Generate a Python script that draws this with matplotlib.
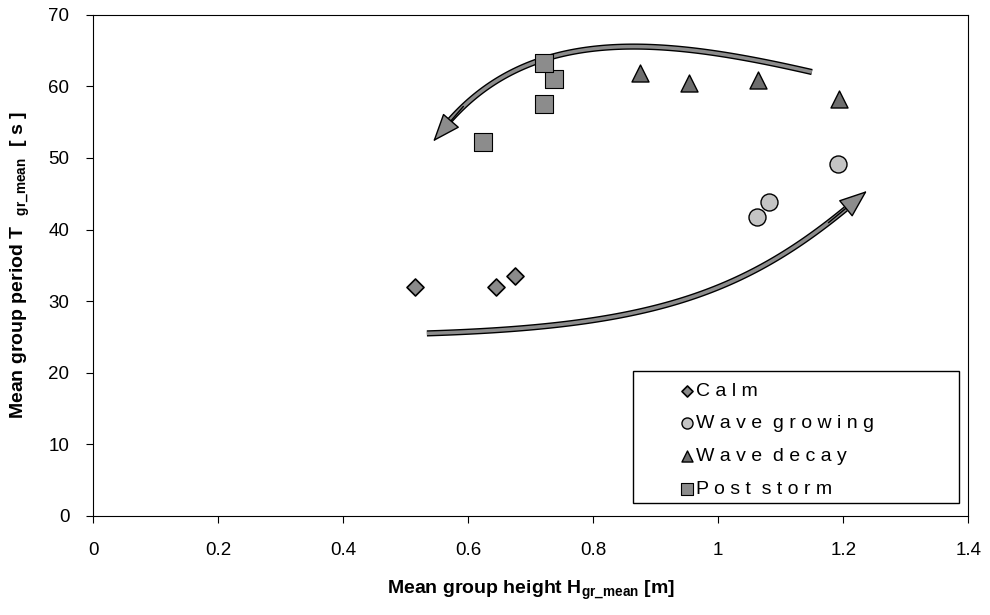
import numpy as np
import matplotlib.pyplot as plt
import matplotlib.patheffects as pe
from matplotlib.patches import FancyArrowPatch, Rectangle

plt.rcParams['font.family'] = ['Liberation Sans', 'DejaVu Sans']
plt.rcParams['mathtext.fontset'] = 'custom'
plt.rcParams['mathtext.rm'] = 'Liberation Sans'
plt.rcParams['mathtext.bf'] = 'Liberation Sans:bold'

# donnees
calm_x = [0.515, 0.645, 0.675]
calm_y = [32.0, 32.0, 33.5]
grow_x = [1.062, 1.082, 1.192]
grow_y = [41.8, 43.9, 49.2]
decay_x = [0.875, 0.954, 1.064, 1.194]
decay_y = [61.8, 60.5, 60.9, 58.2]
post_x = [0.624, 0.722, 0.738, 0.722]
post_y = [52.2, 57.5, 61.0, 63.3]
labels = ['C a l m', 'W a v e  g r o w i n g', 'W a v e  d e c a y', 'P o s t  s t o r m']

# fleches (points de controle de Bezier cubique)
arrow_up = [(1.15, 62.0), (0.90, 67.0), (0.68, 69.0), (0.544, 52.3)]
arrow_low = [(0.534, 25.5), (0.90, 26.5), (1.05, 31.0), (1.238, 45.4)]


def bezier(pts, n=100):
    p = np.array(pts)
    t = np.linspace(0, 1, n)[:, None]
    return ((1 - t) ** 3 * p[0] + 3 * (1 - t) ** 2 * t * p[1]
            + 3 * (1 - t) * t ** 2 * p[2] + t ** 3 * p[3])


fig = plt.figure(figsize=(9.9, 6.15), dpi=100)
ax = fig.add_axes([0.094, 0.161, 0.884, 0.815])

ax.scatter(calm_x, calm_y, marker='D', s=75, c='#8a8a8a', edgecolors='black', linewidths=1.2, label=labels[0], zorder=3)
ax.scatter(grow_x, grow_y, marker='o', s=150, c='#c4c4c4', edgecolors='black', linewidths=1.0, label=labels[1], zorder=3)
ax.scatter(decay_x, decay_y, marker='^', s=150, c='#6e6e6e', edgecolors='black', linewidths=1.0, label=labels[2], zorder=3)
ax.scatter(post_x, post_y, marker='s', s=170, c='#8c8c8c', edgecolors='black', linewidths=0.8, label=labels[3], zorder=3)

for pts in [arrow_up, arrow_low]:
    c = bezier(pts)
    ax.plot(c[:-6, 0], c[:-6, 1], color='#8c8c8c', lw=2.5, solid_capstyle='butt', zorder=2,
            path_effects=[pe.Stroke(linewidth=4.5, foreground='black'), pe.Normal()])
    head = FancyArrowPatch(tuple(c[-12]), tuple(c[-1]), arrowstyle='-|>,head_length=1.3,head_width=0.5',
                           mutation_scale=14, facecolor='#8c8c8c', edgecolor='black', linewidth=1.0,
                           shrinkA=0, shrinkB=0, zorder=2)
    ax.add_patch(head)

ax.set_xlim(0, 1.4)
ax.set_ylim(0, 70)
ax.set_xticks(np.arange(0, 1.41, 0.2))
ax.set_xticklabels(['0', '0.2', '0.4', '0.6', '0.8', '1', '1.2', '1.4'])
ax.set_yticks(np.arange(0, 71, 10))
ax.tick_params(direction='out', length=5, labelsize=13.5)
ax.tick_params(axis='x', pad=14)
ax.tick_params(axis='y', pad=12)

ax.set_xlabel(r'Mean group height H$_{\mathbf{gr\_mean}}$ [m]', fontsize=14, fontweight='bold', labelpad=14)
ax.set_ylabel(r'Mean group period T  $_{\mathbf{gr\_mean}}$  [ s ]', fontsize=14, fontweight='bold', labelpad=12)

# legende : cadre dessine a part
ax.add_patch(Rectangle((0.617, 0.026), 0.372, 0.264, transform=ax.transAxes, fill=True,
                       facecolor='white', edgecolor='black', linewidth=1.0, zorder=4))
leg = ax.legend(loc='lower left', bbox_to_anchor=(0.672, 0.036), fontsize=14, frameon=False,
                handletextpad=0.15, handlelength=0.6, markerscale=0.65, borderpad=0.0,
                borderaxespad=0.0, labelspacing=0.78)
leg.set_zorder(5)

plt.savefig('out.png', dpi=100)
